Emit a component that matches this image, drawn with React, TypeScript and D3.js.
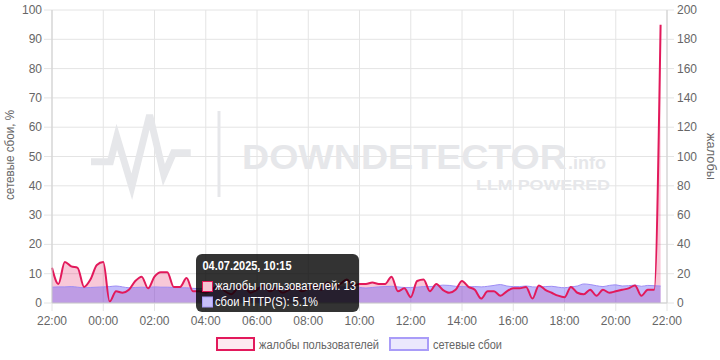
import * as d3 from 'd3';

// 15-minute samples from 03.07.2025 22:00
const START = new Date(2025, 6, 3, 22, 0);
const END = new Date(2025, 6, 4, 22, 0);
const STEP_MIN = 15;

// user complaints (right axis)
const complaints = [
  24, 13, 28, 25, 24, 11, 16, 26, 28, 1, 8, 7, 9, 15, 18, 10, 18, 21, 21, 11, 11, 17, 8,
  8, 7, 9, 12, 8, 6, 10, 11, 7, 9, 12, 8, 10, 7, 9, 11, 8, 10, 12, 9, 14, 11, 13, 16, 12,
  13, 13, 14, 13, 13, 18, 8, 10, 4, 15, 16, 8, 13, 9, 7, 9, 15, 11, 9, 3, 8, 8, 5, 8, 10,
  10, 11, 3, 12, 9, 7, 5, 4, 11, 7, 6, 9, 5, 9, 7, 8, 9, 10, 12, 5, 9, 9, 190,
];

// HTTP(S) failures, % (left axis)
const failures = [
  5.4, 5.5, 5.5, 5.6, 5.4, 5.2, 5.3, 5.4, 5.5, 5.6, 5.8, 5.5, 5.2, 5.3, 5.4, 5.3, 5.5, 5.4, 5.4, 5.3, 5.2, 5.2, 5.0, 4.9,
  5.0, 5.1, 5.2, 5.1, 5.3, 5.2, 5.1, 5.2, 5.3, 5.2, 5.4, 5.3, 5.2, 5.4, 5.5, 5.3, 5.4, 5.6, 5.5, 5.4, 5.6, 5.5, 5.4, 5.5,
  5.3, 5.1, 5.3, 5.5, 5.6, 5.7, 5.5, 5.3, 5.3, 5.4, 5.6, 5.6, 5.8, 6.1, 6.0, 5.7, 5.6, 5.5, 5.6, 5.5, 5.7, 6.0, 6.3, 5.8, 5.6,
  5.6, 5.8, 5.5, 5.4, 5.6, 5.7, 5.4, 5.2, 5.5, 5.8, 6.5, 6.3, 5.9, 5.6, 6.0, 6.2, 5.8, 5.9, 6.1, 5.7, 6.0, 5.9, 5.8,
];

const leftTicks = [0, 10, 20, 30, 40, 50, 60, 70, 80, 90, 100];
const rightTicks = [0, 20, 40, 60, 80, 100, 120, 140, 160, 180, 200];
const TOOLTIP_INDEX = 49;

const RED = '#e2195b';
const PURPLE = '#9d8cf5';
const TEXT = '#666';
const FONT = 'Arial, "Liberation Sans", sans-serif';
const WM = '#e6e7ea';

export default function App() {
  const W = 720;
  const H = 360;
  const margin = { top: 10, right: 53, bottom: 57, left: 52 };
  const x0 = margin.left;
  const x1 = W - margin.right;
  const y0 = H - margin.bottom;
  const y1 = margin.top;

  const times = complaints.map((_, i) => new Date(START.getTime() + i * STEP_MIN * 60000));
  const data = times.map((t, i) => ({ t, c: complaints[i], f: failures[i] }));

  const x = d3.scaleTime().domain([START, END]).range([x0, x1]);
  const yL = d3.scaleLinear().domain([0, 100]).range([y0, y1]);
  const yR = d3.scaleLinear().domain([0, 200]).range([y0, y1]);
  const xTicks = d3.timeHour.every(2)!.range(START, new Date(END.getTime() + 1));
  const fmt = d3.timeFormat('%H:%M');

  const cArea = d3.area<typeof data[0]>().x(d => x(d.t)).y0(y0).y1(d => yR(d.c)).curve(d3.curveMonotoneX);
  const cLine = d3.line<typeof data[0]>().x(d => x(d.t)).y(d => yR(d.c)).curve(d3.curveMonotoneX);
  const fArea = d3.area<typeof data[0]>().x(d => x(d.t)).y0(y0).y1(d => yL(d.f)).curve(d3.curveMonotoneX);
  const fLine = d3.line<typeof data[0]>().x(d => x(d.t)).y(d => yL(d.f)).curve(d3.curveMonotoneX);

  const tip = data[TOOLTIP_INDEX];
  const tipTitle = d3.timeFormat('%d.%m.%Y, %H:%M')(tip.t);
  const tx = 196;
  const ty = 254;

  return (
    <div style={{ position: 'fixed', left: 0, top: 0 }}>
      <svg width={W} height={H} fontFamily={FONT} style={{ display: 'block' }}>
        <rect width={W} height={H} fill="#fff" />

        {/* grid */}
        {leftTicks.map(t => (
          <line key={'h' + t} x1={x0 - 8} x2={x1 + 7} y1={yL(t)} y2={yL(t)} stroke="#e4e4e4" />
        ))}
        {xTicks.map((t, i) => (
          <line key={'v' + i} x1={x(t)} x2={x(t)} y1={y1} y2={y0 + 8} stroke="#e4e4e4" />
        ))}

        {/* watermark */}
        <g>
          <polyline
            points="91,161.7 110.4,161.7 116.8,136.7 131.8,186.7 149.6,115 163.9,175 173.6,152.7 190.7,152.7"
            fill="none" stroke={WM} strokeWidth={7} strokeLinejoin="miter"
          />
          <line x1={219} x2={219} y1={111} y2={197} stroke={WM} strokeWidth={3} />
          <text x={242} y={169} fontSize={35} fontWeight="bold" fill={WM} textLength={325} lengthAdjust="spacingAndGlyphs">DOWNDETECTOR</text>
          <text x={568} y={169} fontSize={18} fontWeight="bold" fill={WM}>.info</text>
          <text x={610} y={190} fontSize={15} fontWeight="bold" fill={WM} textAnchor="end" textLength={134} lengthAdjust="spacingAndGlyphs">LLM POWERED</text>
        </g>

        {/* series */}
        <path d={cArea(data) || ''} fill="rgba(226,25,91,0.24)" />
        <path d={fArea(data) || ''} fill="rgba(110,95,245,0.42)" />
        <path d={fLine(data) || ''} fill="none" stroke={PURPLE} strokeWidth={1} />
        <path d={cLine(data) || ''} fill="none" stroke={RED} strokeWidth={2} />

        {/* axes */}
        <line x1={x0} x2={x0} y1={y1} y2={y0} stroke="#cfcfcf" />
        <line x1={x1} x2={x1} y1={y1} y2={y0} stroke="#cfcfcf" />
        <line x1={x0} x2={x1} y1={y0} y2={y0} stroke="#cfcfcf" />
        {leftTicks.map(t => (
          <text key={'l' + t} x={x0 - 10} y={yL(t) + 4} fontSize={12} fill={TEXT} textAnchor="end">{t}</text>
        ))}
        {rightTicks.map(t => (
          <text key={'r' + t} x={x1 + 10} y={yR(t) + 4} fontSize={12} fill={TEXT}>{t}</text>
        ))}
        {xTicks.map((t, i) => (
          <text key={'x' + i} x={x(t)} y={y0 + 22} fontSize={12} fill={TEXT} textAnchor="middle">{fmt(t)}</text>
        ))}
        <text transform={`translate(14,155) rotate(-90)`} fontSize={12} fill={TEXT} textAnchor="middle" textLength={90} lengthAdjust="spacingAndGlyphs">сетевые сбои, %</text>
        <text transform={`translate(707,156.5) rotate(90)`} fontSize={12} fill={TEXT} textAnchor="middle" textLength={47} lengthAdjust="spacingAndGlyphs">жалобы</text>

        {/* legend */}
        <rect x={217} y={338} width={37} height={12} fill="#fdeaf0" stroke={RED} strokeWidth={2} />
        <text x={259} y={348.5} fontSize={12} fill={TEXT} textLength={120} lengthAdjust="spacingAndGlyphs">жалобы пользователей</text>
        <rect x={390} y={338} width={38} height={12} fill="#ebe8fd" stroke="#a99cf8" strokeWidth={2} />
        <text x={433} y={348.5} fontSize={12} fill={TEXT} textLength={69} lengthAdjust="spacingAndGlyphs">сетевые сбои</text>

        {/* tooltip */}
        <g>
          <rect x={tx} y={ty} width={163} height={58} rx={6} fill="rgba(0,0,0,0.8)" />
          <text x={tx + 6.5} y={ty + 16} fontSize={12} fontWeight="bold" fill="#fff" textLength={89} lengthAdjust="spacingAndGlyphs">{tipTitle}</text>
          <rect x={tx + 6.5} y={ty + 27.5} width={10} height={10} fill="#f6c4d4" stroke={RED} strokeWidth={1} />
          <text x={tx + 19} y={ty + 36} fontSize={12} fill="#fff" textLength={141} lengthAdjust="spacingAndGlyphs">{`жалобы пользователей: ${tip.c}`}</text>
          <rect x={tx + 6.5} y={ty + 43} width={10} height={10} fill="#c7c0f9" stroke="#a99cf8" strokeWidth={1} />
          <text x={tx + 19} y={ty + 51.5} fontSize={12} fill="#fff" textLength={103} lengthAdjust="spacingAndGlyphs">{`сбои HTTP(S): ${tip.f}%`}</text>
        </g>
      </svg>
    </div>
  );
}
